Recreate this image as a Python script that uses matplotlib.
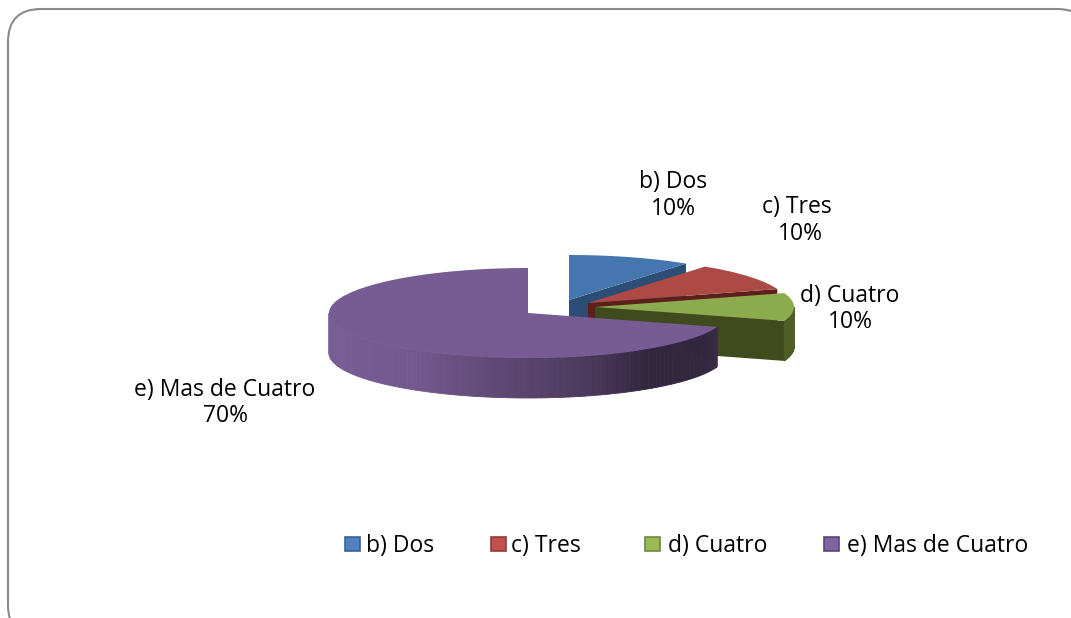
import matplotlib
matplotlib.use("Agg")
import matplotlib.pyplot as plt
from matplotlib.patches import FancyBboxPatch, Polygon, Rectangle
import numpy as np

# data
categories = ["b) Dos", "c) Tres", "d) Cuatro", "e) Mas de Cuatro"]
shares = [10, 10, 10, 70]

# colours
top_colors = ["#4676af", "#ad4a46", "#8aab4e", "#775b93"]
cut_colors = ["#2c4d75", "#5c1f1c", "#404a1f", "#2f2640"]
rim_colors = ["#2c4d75", "#6b2a27", "#4f5e25", "#30263f"]
legend_fill = ["#4f81bd", "#c0504d", "#9bbb59", "#8064a2"]
legend_edge = ["#3a6496", "#943b38", "#6f8a3c", "#5c4776"]

# layout in pixels
apex = [(569, 300), (588, 303), (595, 307), (528, 313)]
rx, ry, depth = 199, 45, 40
label_pos = [(673, 182), (797, 207), (850, 296), (225, 390)]
pct_pos = [(673, 209), (800, 234), (850, 322), (225, 416)]
legend_box = [345, 491, 645, 824]
legend_txt = [366, 511, 668, 847]
text_size = 16.5

plt.rcParams["font.family"] = ["Open Sans", "DejaVu Sans"]
fig = plt.figure(figsize=(10.71, 6.18), dpi=100)
ax = fig.add_axes([0, 0, 1, 1])
ax.set_xlim(0, 1071)
ax.set_ylim(618, 0)
ax.axis("off")

# frame runs off the right and bottom edges
ax.add_patch(FancyBboxPatch((8 + 33, 9 + 33), 1082 - 66, 629 - 66,
                            boxstyle="round,pad=33,rounding_size=33",
                            fc="white", ec="#8a8a8a", lw=1.5, zorder=0))


def ell(c, th):
    th = np.radians(th)
    return c[0] + rx * np.cos(th), c[1] - ry * np.sin(th)


def shade(col, f):
    rgb = np.array(matplotlib.colors.to_rgb(col))
    return tuple(np.clip(rgb * f, 0, 1))


# angles run clockwise from the top, like the original pie
ends = 90 - 3.6 * np.cumsum(shares)
starts = np.r_[90, ends[:-1]]

for i in range(len(shares)):
    c = apex[i]
    a0, a1 = starts[i], ends[i]
    z = 2 + i
    th = np.linspace(a0, a1, 160)
    xs, ys = ell(c, th)

    # cut face on the clockwise end
    if i < 3:
        ex, ey = ell(c, a1)
        ax.add_patch(Polygon([c, (ex, ey), (ex, ey + depth), (c[0], c[1] + depth)],
                             fc=cut_colors[i], ec="none", zorder=z))

    # rim, only the part that looks at the viewer
    wrapped = np.mod(th, 360)
    front = np.sort(th[wrapped >= 180])
    for j in range(len(front) - 1):
        fx, fy = ell(c, front[j:j + 2])
        if i == 3:
            # light on the left, dark on the right
            u = np.mod(front[j], 360)
            f = np.interp(u, [180, 235, 262, 288, 305, 330, 342],
                          [1.03, 0.97, 0.79, 0.62, 0.43, 0.42, 0.48])
            col = shade(top_colors[3], f)
        else:
            col = rim_colors[i]
        ax.add_patch(Polygon([(fx[0], fy[0]), (fx[1], fy[1]),
                              (fx[1], fy[1] + depth), (fx[0], fy[0] + depth)],
                             fc=col, ec=col, lw=0.6, zorder=z))

    ax.add_patch(Polygon(np.r_[[c], np.c_[xs, ys]], fc=top_colors[i], ec="none", zorder=z + 0.5))

    ax.text(*label_pos[i], categories[i], ha="center", va="center", fontsize=text_size, color="black", zorder=10)
    ax.text(*pct_pos[i], f"{shares[i]}%", ha="center", va="center", fontsize=text_size, color="black", zorder=10)

    ax.add_patch(Rectangle((legend_box[i], 537), 15, 14, fc=legend_fill[i], ec=legend_edge[i], lw=1.2))
    ax.text(legend_txt[i], 546, categories[i], ha="left", va="center", fontsize=text_size, color="black")

fig.savefig("out.png", dpi=100)
